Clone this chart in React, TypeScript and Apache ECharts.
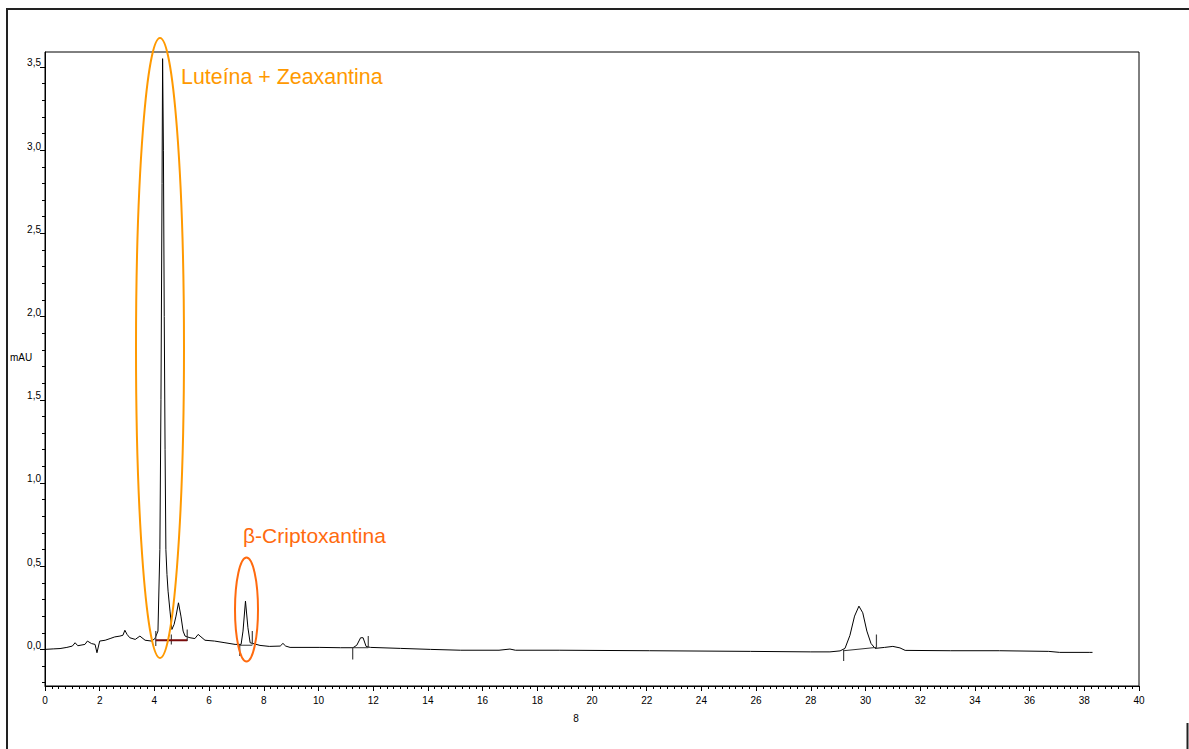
import React, { useEffect, useRef } from "react";
import * as echarts from "echarts";

// Chromatogram trace: [retention time (min), absorbance (mAU)]
const trace: [number, number][] = [
  [0, 0], [0.3, 0.003], [0.55, 0.005], [0.8, 0.012], [1.0, 0.02], [1.1, 0.04], [1.2, 0.022],
  [1.46, 0.03], [1.55, 0.05], [1.7, 0.035], [1.83, 0.03], [1.9, -0.02], [2.0, 0.05], [2.2, 0.055],
  [2.38, 0.065], [2.55, 0.075], [2.74, 0.08], [2.85, 0.085], [2.92, 0.115], [3.0, 0.09], [3.1, 0.07],
  [3.3, 0.06], [3.47, 0.08], [3.66, 0.055], [3.9, 0.05], [4.02, 0.065], [4.13, 0.11], [4.2, 0.6],
  [4.24, 1.5], [4.28, 2.8], [4.3, 3.55], [4.33, 3.0], [4.36, 2.0], [4.39, 1.2], [4.42, 0.6],
  [4.46, 0.45], [4.5, 0.35], [4.57, 0.23], [4.64, 0.12], [4.72, 0.15], [4.79, 0.2], [4.88, 0.28],
  [4.97, 0.2], [5.05, 0.11], [5.12, 0.08], [5.3, 0.07], [5.48, 0.065], [5.6, 0.09], [5.67, 0.08],
  [5.85, 0.055], [6.2, 0.05], [6.58, 0.04], [6.95, 0.03], [7.17, 0.03], [7.24, 0.11], [7.33, 0.29],
  [7.42, 0.13], [7.5, 0.04], [7.86, 0.024], [8.2, 0.018], [8.6, 0.02], [8.7, 0.036], [8.8, 0.02],
  [8.96, 0.012], [10.05, 0.012], [10.8, 0.01], [11.26, 0.01], [11.4, 0.025], [11.54, 0.07],
  [11.63, 0.07], [11.74, 0.018], [11.9, 0.012], [13, 0.006], [14.1, 0], [15.2, -0.005],
  [16.6, -0.005], [17, 0.002], [17.2, -0.005], [18.8, -0.005], [22.1, -0.008], [25.8, -0.012],
  [28, -0.015], [28.7, -0.015], [29.07, -0.009], [29.25, 0.006], [29.43, 0.084], [29.6, 0.2],
  [29.76, 0.26], [29.9, 0.22], [30.05, 0.11], [30.2, 0.036], [30.35, 0.006], [30.7, 0.012],
  [31.0, 0.018], [31.26, 0.009], [31.45, -0.006], [33.1, -0.008], [34.9, -0.008], [36.7, -0.012],
  [37.1, -0.018], [38.2, -0.018], [38.3, -0.018],
];

// Integration tick marks: [time, yFrom, yTo]
const peakTicks: [number, number, number][] = [
  [4.05, 0.02, 0.11], [4.62, 0.03, 0.09], [5.2, 0.05, 0.12],
  [7.12, 0.03, -0.04], [7.58, 0.03, 0.11],
  [11.25, 0.01, -0.06], [11.82, 0.01, 0.08],
  [29.2, 0.0, -0.07], [30.4, 0.01, 0.09],
];

// Integration baselines: [t1, y1, t2, y2]
const baselines: [number, number, number, number][] = [
  [4.05, 0.055, 5.2, 0.055],
  [7.12, 0.025, 7.58, 0.025],
  [11.25, 0.01, 11.82, 0.01],
  [29.2, -0.008, 30.4, 0.012],
];
const baselineColors = ["#7a0a0a", "#333333", "#333333", "#333333"];

const yMajorTicks = [0, 0.5, 1, 1.5, 2, 2.5, 3, 3.5];
const yMinorTicks = [
  -0.2, -0.1, 0, 0.1, 0.2, 0.3, 0.4, 0.5, 0.6, 0.7, 0.8, 0.9, 1.0, 1.1, 1.2, 1.3, 1.4, 1.5, 1.6,
  1.7, 1.8, 1.9, 2.0, 2.1, 2.2, 2.3, 2.4, 2.5, 2.6, 2.7, 2.8, 2.9, 3.0, 3.1, 3.2, 3.3, 3.4, 3.5,
];

const Y_MIN = -0.22;
const Y_MAX = 3.59;
const FONT = "Liberation Sans, Arial, sans-serif";

export default function App() {
  const ref = useRef<HTMLDivElement>(null);
  useEffect(() => {
    if (!ref.current) return;
    const chart = echarts.init(ref.current, undefined, { renderer: "svg" });
    const series: any[] = [
      {
        type: "line",
        data: trace,
        symbol: "none",
        lineStyle: { color: "#000", width: 1 },
        z: 3,
      },
    ];
    peakTicks.forEach(([t, a, b]) => {
      series.push({
        type: "line",
        data: [[t, a], [t, b]],
        symbol: "none",
        lineStyle: { color: "#444", width: 1.2 },
        z: 4,
      });
    });
    baselines.forEach(([t1, y1, t2, y2], i) => {
      series.push({
        type: "line",
        data: [[t1, y1], [t2, y2]],
        symbol: "none",
        lineStyle: { color: baselineColors[i], width: i === 0 ? 2 : 1 },
        z: 4,
      });
    });

    chart.setOption({
      animation: false,
      backgroundColor: "#fff",
      textStyle: { fontFamily: FONT },
      grid: {
        left: 45,
        top: 52,
        width: 1094,
        height: 634,
        show: true,
        borderColor: "#000",
        borderWidth: 1,
        backgroundColor: "transparent",
      },
      xAxis: {
        type: "value",
        min: 0,
        max: 40,
        interval: 2,
        axisLine: { show: true, onZero: false, lineStyle: { color: "#000", width: 1 } },
        axisTick: { show: true, length: 5, lineStyle: { color: "#000" } },
        minorTick: { show: true, splitNumber: 8, length: 3, lineStyle: { color: "#000" } },
        splitLine: { show: false },
        axisLabel: { color: "#000", fontSize: 10, margin: 9, fontFamily: FONT },
      },
      yAxis: [
        {
          type: "value",
          min: Y_MIN,
          max: Y_MAX,
          position: "left",
          axisLine: { show: true, onZero: false, lineStyle: { color: "#000", width: 1 } },
          axisTick: { show: true, length: 5, customValues: yMajorTicks, lineStyle: { color: "#000" } },
          splitLine: { show: false },
          axisLabel: {
            customValues: yMajorTicks,
            color: "#000",
            fontSize: 10,
            margin: 4,
            lineHeight: 8,
            verticalAlign: "bottom",
            fontFamily: FONT,
            formatter: (v: number) => v.toFixed(1).replace(".", ","),
          },
        },
        {
          type: "value",
          min: Y_MIN,
          max: Y_MAX,
          position: "left",
          axisLine: { show: false, onZero: false },
          axisTick: { show: true, length: 3, customValues: yMinorTicks, lineStyle: { color: "#000" } },
          splitLine: { show: false },
          axisLabel: { show: false },
        },
      ],
      series,
      graphic: [
        {
          type: "rect",
          shape: { x: 7, y: 9, width: 1190, height: 760 },
          style: { fill: "none", stroke: "#222", lineWidth: 2 },
          silent: true,
        },
        {
          type: "line",
          shape: { x1: 1187.5, y1: 723, x2: 1187.5, y2: 749 },
          style: { stroke: "#222", lineWidth: 2 },
        },
        {
          type: "text",
          x: 10,
          y: 352,
          style: { text: "mAU", fontSize: 10, fill: "#000", fontFamily: FONT },
        },
        {
          type: "text",
          x: 576,
          y: 713,
          style: { text: "8", fontSize: 10, fill: "#000", fontFamily: FONT, align: "center" },
        },
        {
          type: "ellipse",
          shape: { cx: 160, cy: 348, rx: 24, ry: 310 },
          style: { fill: "none", stroke: "#FF9900", lineWidth: 2 },
          z: 10,
        },
        {
          type: "ellipse",
          shape: { cx: 246.5, cy: 609.5, rx: 11.5, ry: 52 },
          style: { fill: "none", stroke: "#FF6A0E", lineWidth: 2 },
          z: 10,
        },
        {
          type: "text",
          x: 181,
          y: 66,
          style: { text: "Luteína + Zeaxantina", fontSize: 21.4, fill: "#FF9900", fontFamily: FONT },
          z: 10,
        },
        {
          type: "text",
          x: 243,
          y: 525,
          style: { text: "β-Criptoxantina", fontSize: 21, fill: "#FF6A0E", fontFamily: FONT },
          z: 10,
        },
      ],
    });
    return () => chart.dispose();
  }, []);
  return (
    <div
      ref={ref}
      style={{ position: "absolute", left: 0, top: 0, width: 1189, height: 749 }}
    />
  );
}
